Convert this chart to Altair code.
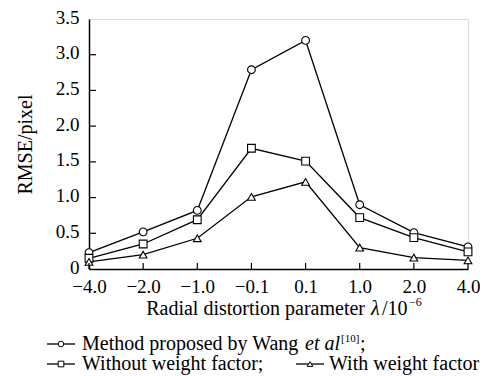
import altair as alt
import pandas as pd

categories = ["\u22124.0", "\u22122.0", "\u22121.0", "\u22120.1", "0.1", "1.0", "2.0", "4.0"]
wang = [0.23, 0.52, 0.82, 2.79, 3.20, 0.90, 0.51, 0.31]
without_w = [0.15, 0.35, 0.69, 1.69, 1.51, 0.72, 0.44, 0.24]
with_w = [0.10, 0.20, 0.43, 1.01, 1.22, 0.30, 0.16, 0.12]
series_names = ["Method proposed by Wang et al", "Without weight factor", "With weight factor"]
shapes = ["circle", "square", "triangle-up"]
y_ticks = [0, 0.5, 1.0, 1.5, 2.0, 2.5, 3.0, 3.5]

FONT = "Liberation Serif"
W, H = 379, 250

rows = []
for name, vals, shp in zip(series_names, [wang, without_w, with_w], shapes):
    for c, v in zip(categories, vals):
        rows.append({"cat": c, "rmse": v, "series": name, "shape": shp})
df = pd.DataFrame(rows)

x_scale = alt.Scale(type="point", padding=0)
x_axis = alt.Axis(title=None, ticks=False, labelAngle=0, labelFont=FONT,
                  labelFontSize=19, labelColor="black", labelPadding=8,
                  labelOverlap=False,
                  domainColor="black", domainWidth=1.5, grid=False)
y_scale = alt.Scale(domain=[0, 3.5], nice=False)
y_axis = alt.Axis(title="RMSE/pixel", values=y_ticks, ticks=False,
                  labelExpr="datum.value == 0 ? '0' : format(datum.value, '.1f')",
                  labelFont=FONT, labelFontSize=19, labelColor="black",
                  labelPadding=10, labelOverlap=False, labelFlush=False,
                  labelOffset=-2,
                  titleFont=FONT, titleFontSize=20,
                  titleFontWeight="normal", titleColor="black", titlePadding=20,
                  domainColor="black", domainWidth=1.5, grid=False)

xs = alt.X("cat:N", sort=categories, scale=x_scale, axis=x_axis)
ys = alt.Y("rmse:Q", scale=y_scale, axis=y_axis)

base = alt.Chart(df)
lines = base.mark_line(color="black", strokeWidth=1.3).encode(
    x=xs, y=ys, detail="series:N")
points = base.mark_point(filled=True, fill="white", stroke="black", strokeWidth=1.1,
                         opacity=1).encode(
    x=xs, y=ys,
    shape=alt.Shape("shape:N", scale=None),
    size=alt.value(60))

tick_df = pd.DataFrame({"cat": categories})
xticks = alt.Chart(tick_df).mark_rule(color="black", strokeWidth=1.2).encode(
    x=alt.X("cat:N", sort=categories, scale=x_scale, axis=x_axis),
    y=alt.value(H), y2=alt.value(H - 6))
ytick_df = pd.DataFrame({"rmse": y_ticks[1:-1]})
yticks = alt.Chart(ytick_df).mark_rule(color="black", strokeWidth=1.2).encode(
    y=alt.Y("rmse:Q", scale=y_scale, axis=y_axis), x=alt.value(0), x2=alt.value(7))

one = alt.Data(values=[{"a": 1}])

def txt(s, x, y, size=20, style="normal", align="left", baseline="alphabetic"):
    return alt.Chart(one).mark_text(font=FONT, fontSize=size, fontStyle=style,
                                    align=align, baseline=baseline, color="black").encode(
        x=alt.value(x), y=alt.value(y), text=alt.value(s))

def sym(x, y, shp):
    r = alt.Chart(one).mark_rule(color="black", strokeWidth=1.3).encode(
        x=alt.value(x - 14), x2=alt.value(x + 14), y=alt.value(y))
    p = alt.Chart(one).mark_point(filled=True, fill="white", stroke="black",
                                  strokeWidth=1.0, opacity=1).encode(
        x=alt.value(x), y=alt.value(y), shape=alt.value(shp), size=alt.value(32))
    return r + p

# x-axis title (rich text pieces)
ty = 296
xtitle = (txt("Radial distortion parameter", 276, ty, align="right")
          + txt("\u03bb", 282, ty, style="italic")
          + txt("/10", 293, ty)
          + txt("\u22126", 320, ty - 9, size=12))

ly1, ly2 = 331, 351
legend = (sym(-28, ly1 - 6, "circle")
          + txt("Method proposed by Wang", -7, ly1)
          + txt("et al", 216, ly1, style="italic")
          + txt("[10]", 252, ly1 - 8, size=11)
          + txt(";", 271, ly1)
          + sym(-28, ly2 - 6, "square")
          + txt("Without weight factor;", -7, ly2)
          + sym(221, ly2 - 6, "triangle-up")
          + txt("With weight factor", 240, ly2))

chart = alt.layer(lines, points, xticks, yticks, xtitle, legend).properties(
    width=W, height=H,
    autosize=alt.AutoSizeParams(type="none"),
    padding={"left": 81, "top": 11, "right": 12, "bottom": 107},
).configure_view(stroke="black", strokeWidth=1.5).configure(background="white")

chart.save("out.html", embed_options={"renderer": "svg", "actions": False})
